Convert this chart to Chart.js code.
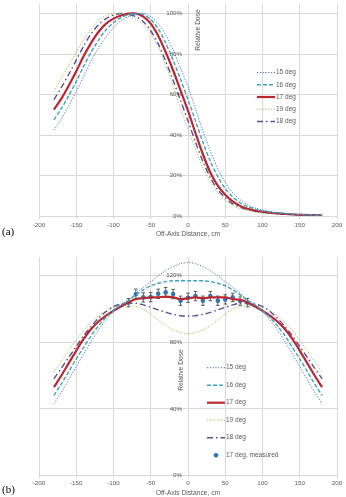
<!DOCTYPE html>
<html>
<head>
<meta charset="utf-8">
<script src="https://cdn.jsdelivr.net/npm/chart.js@4/dist/chart.umd.min.js"></script>
<style>
  body { margin: 0; background: #fff; width: 346px; height: 497px; position: relative; overflow: hidden; font-family: "Liberation Sans", Arial, sans-serif; }
  canvas { position: absolute; left: 0; }
  #chartA { top: 0; }
  #chartB { top: 250px; }
  .ytitle { position: absolute; font-size: 6.7px; color: #595959; white-space: nowrap; transform: translate(-50%, -50%) rotate(-90deg); }
  .panel { position: absolute; left: 2px; font-family: "Liberation Serif", "Times New Roman", serif; font-size: 11px; color: #000; }
</style>
</head>
<body>
<canvas id="chartA" width="346" height="247"></canvas>
<canvas id="chartB" width="346" height="247"></canvas>
<div class="ytitle" style="left:197px; top:30px;">Relative Dose</div>
<div class="ytitle" style="left:179.5px; top:370px;">Relative Dose</div>
<div class="panel" style="top:225px;">(a)</div>
<div class="panel" style="top:483px;">(b)</div>
<script>
// off-axis positions, cm
const xs = [-180, -170, -160, -150, -140, -130, -120, -110, -100, -90, -80, -70, -60, -50, -40, -30, -20, -10, 0,
  10, 20, 30, 40, 50, 60, 70, 80, 90, 100, 110, 120, 130, 140, 150, 160, 170, 180];

const labels = ['15 deg', '16 deg', '17 deg', '19 deg', '18 deg'];

// (a) relative dose, %
const a15 = [42.5, 48, 54.5, 61.5, 69, 76.5, 83, 88.5, 93, 96.5, 98.5, 99.8, 100, 98.5, 95, 89.5, 82, 73, 64,
  53, 42, 32, 23.5, 16.5, 11.5, 8, 5.5, 4, 3, 2.2, 1.7, 1.3, 1, 0.8, 0.6, 0.5, 0.4];
const a16 = [47.5, 53, 59.5, 66.5, 74, 81, 87, 92, 95.5, 98, 99.5, 100, 99.5, 97, 92.5, 85.5, 77, 67.5, 57.5,
  47, 36.5, 27, 19.5, 13.5, 9.5, 6.5, 4.6, 3.4, 2.5, 1.9, 1.5, 1.2, 0.9, 0.7, 0.55, 0.45, 0.35];
const a17 = [52.5, 58, 64.5, 71.5, 79, 85.5, 91, 95, 97.5, 99, 100, 100, 98.5, 95, 89, 81, 72, 62, 52,
  41, 30.5, 21.5, 15, 10.5, 7.2, 5, 3.6, 2.7, 2, 1.6, 1.3, 1, 0.8, 0.6, 0.5, 0.4, 0.3];
const a19 = [61.5, 68, 74.5, 81, 87, 92.5, 96.5, 99, 100, 100, 99, 97, 94.5, 90, 83.5, 74.5, 64, 53, 43,
  33, 24, 17, 11.5, 7.8, 5.3, 3.7, 2.7, 2, 1.5, 1.2, 1, 0.8, 0.6, 0.5, 0.4, 0.3, 0.25];
const a18 = [57.5, 63.5, 70, 77, 84, 90, 94.5, 97.5, 99.3, 100, 99.5, 98.5, 96, 91.5, 85, 76.5, 67, 57, 47,
  36.5, 27, 19, 13, 9, 6, 4.3, 3.1, 2.3, 1.8, 1.4, 1.1, 0.9, 0.7, 0.55, 0.45, 0.35, 0.3];

// (b) relative dose, %
const b15 = [43, 50, 57.5, 65.5, 73, 80.5, 87.5, 93.5, 98.5, 102.5, 105.5, 109.5, 113, 116.5, 120, 123, 125.5, 127.3, 128,
  127.3, 125.5, 123, 120, 116.5, 113, 109.5, 105.5, 102.5, 98.5, 93.5, 87.5, 80.5, 73, 65.5, 57.5, 50, 43];
const b16 = [48, 55, 62.5, 70, 77, 84, 90, 95, 99, 102.5, 105, 108.5, 111.5, 114, 115.5, 116.5, 117, 117, 117,
  117, 117, 116.5, 115.5, 114, 111.5, 108.5, 105, 102.5, 99, 95, 90, 84, 77, 70, 62.5, 55, 48];
const b17 = [53, 60, 67.5, 75, 82, 88, 92.5, 96, 99, 101.5, 104, 106, 106.5, 107, 107, 107.5, 107, 106, 106.5,
  107, 106.5, 107, 107, 107, 106, 105.5, 104, 101.5, 99, 96, 92.5, 88, 82, 75, 67.5, 60, 53];
const b19 = [62, 68.5, 75, 81.5, 87, 92, 96, 99, 101, 102, 102, 101.5, 100, 97, 93.5, 90, 87.5, 85.8, 85,
  85.8, 87.5, 90, 93.5, 97, 100, 101.5, 102, 102, 101, 99, 96, 92, 87, 81.5, 75, 68.5, 62];
const b18 = [58, 64.5, 71, 77.5, 84, 89.5, 94.5, 98.5, 101.5, 103, 103.5, 103.5, 102.5, 101, 99.5, 98, 96.8, 96, 95.8,
  96, 96.8, 98, 99.5, 101, 102.5, 103.5, 103.5, 103, 101.5, 98.5, 94.5, 89.5, 84, 77.5, 71, 64.5, 58];

// (b) measured, 17 deg
const measX = [-80, -70, -60, -50, -40, -30, -20, -10, 0, 10, 20, 30, 40, 50, 60, 70, 80];
const measY = [103.8, 109, 107, 107.2, 109.2, 110, 109, 105, 106.8, 107.8, 105, 107.8, 105, 105.8, 107, 104.8, 103.8];
const measErr = [2.5, 3, 2.8, 2.8, 2.8, 3, 2.8, 2.8, 2.8, 2.8, 2.8, 2.8, 2.8, 2.8, 2.5, 2.5, 2.5];

const styles = {
  '15 deg': { color: '#4a72b0', width: 1, dash: [1.2, 1.6] },
  '16 deg': { color: '#3fa3bf', width: 1.4, dash: [4, 2] },
  '17 deg': { color: '#b8282e', width: 2.2, dash: [] },
  '19 deg': { color: '#a8b94f', width: 1, dash: [1.2, 1.6] },
  '18 deg': { color: '#5e4c94', width: 1.4, dash: [6, 3, 1.5, 3] }
};
const grey = '#595959';
const gridColor = '#d9d9d9';
const tickFont = { family: '"Liberation Sans", Arial, sans-serif', size: 6.2 };

function lineSet(label, ys) {
  const st = styles[label];
  return {
    label,
    data: xs.map((x, i) => ({ x, y: ys[i] })),
    borderColor: st.color,
    backgroundColor: st.color,
    borderWidth: st.width,
    borderDash: st.dash,
    pointRadius: 0,
    tension: 0.3,
    fill: false
  };
}

const legendBox = {
  id: 'legendBox',
  afterDraw(chart, args, opts) {
    const ctx = chart.ctx;
    ctx.save();
    ctx.font = '6.5px "Liberation Sans", Arial, sans-serif';
    ctx.textBaseline = 'middle';
    chart.data.datasets.forEach((ds, i) => {
      const y = opts.y + i * opts.dy;
      if (ds.showLine === false) {
        ctx.fillStyle = ds.backgroundColor;
        ctx.beginPath();
        ctx.arc(opts.x + opts.w / 2, y, ds.pointRadius, 0, Math.PI * 2);
        ctx.fill();
      } else {
        ctx.strokeStyle = ds.borderColor;
        ctx.lineWidth = ds.borderWidth;
        ctx.setLineDash(ds.borderDash);
        ctx.beginPath();
        ctx.moveTo(opts.x, y);
        ctx.lineTo(opts.x + opts.w, y);
        ctx.stroke();
      }
      ctx.setLineDash([]);
      ctx.fillStyle = grey;
      ctx.fillText(ds.label, opts.x + opts.w + 1, y);
    });
    ctx.restore();
  }
};

const errorBars = {
  id: 'errorBars',
  beforeDatasetDraw(chart, args) {
    const ds = chart.data.datasets[args.index];
    if (!ds.errors) return;
    const { ctx, scales: { x, y } } = chart;
    ctx.save();
    ctx.strokeStyle = '#3a3a3a';
    ctx.lineWidth = 0.8;
    ds.data.forEach((p, i) => {
      const px = x.getPixelForValue(p.x);
      const top = y.getPixelForValue(p.y + ds.errors[i]);
      const bot = y.getPixelForValue(p.y - ds.errors[i]);
      ctx.beginPath();
      ctx.moveTo(px, top); ctx.lineTo(px, bot);
      ctx.moveTo(px - 1.8, top); ctx.lineTo(px + 1.8, top);
      ctx.moveTo(px - 1.8, bot); ctx.lineTo(px + 1.8, bot);
      ctx.stroke();
    });
    ctx.restore();
  }
};

function makeChart(id, datasets, cfg) {
  return new Chart(document.getElementById(id), {
    type: 'line',
    data: { datasets },
    plugins: [legendBox, errorBars],
    options: {
      responsive: false,
      animation: false,
      layout: { padding: { left: 39, right: 9, top: cfg.top, bottom: 0 } },
      plugins: {
        legend: { display: false },
        tooltip: { enabled: false },
        legendBox: cfg.legend
      },
      scales: {
        x: {
          type: 'linear',
          min: -200,
          max: 200,
          afterFit: s => { s.height = cfg.xHeight; },
          ticks: { stepSize: 50, autoSkip: false, maxRotation: 0, color: grey, font: tickFont, padding: cfg.xPad },
          grid: { color: gridColor, tickLength: 3 },
          border: { color: gridColor },
          title: { display: true, text: 'Off-Axis Distance, cm', color: grey,
            font: { family: '"Liberation Sans", Arial, sans-serif', size: 6.7 }, padding: { top: 0, bottom: cfg.titlePad } }
        },
        y: {
          position: { x: -8 },
          min: 0,
          max: cfg.yMax,
          afterBuildTicks: s => { s.ticks = s.ticks.filter(t => t.value % cfg.yStep === 0); },
          ticks: { stepSize: cfg.yStep, color: grey, font: tickFont, padding: 0, callback: v => v + '%' },
          grid: { color: gridColor, drawTicks: false },
          border: { display: false }
        }
      }
    }
  });
}

makeChart('chartA', [
  lineSet('15 deg', a15),
  lineSet('16 deg', a16),
  lineSet('17 deg', a17),
  lineSet('19 deg', a19),
  lineSet('18 deg', a18)
], { top: 0, yMax: 104.85, yStep: 20, xHeight: 31, xPad: 3, titlePad: 9,
     legend: { x: 257, y: 72.5, dy: 12.25, w: 18 } });

makeChart('chartB', [
  lineSet('15 deg', b15),
  lineSet('16 deg', b16),
  lineSet('17 deg', b17),
  lineSet('19 deg', b19),
  lineSet('18 deg', b18),
  {
    label: '17 deg, measured',
    data: measX.map((x, i) => ({ x, y: measY[i] })),
    errors: measErr,
    showLine: false,
    pointRadius: 2.3,
    pointBorderWidth: 0,
    backgroundColor: '#2e75b6',
    borderColor: '#2e75b6'
  }
], { top: 7.5, yMax: 131, yStep: 40, xHeight: 21.7, xPad: 1, titlePad: 0,
     legend: { x: 207, y: 117.7, dy: 17.5, w: 18 } });
</script>
</body>
</html>
